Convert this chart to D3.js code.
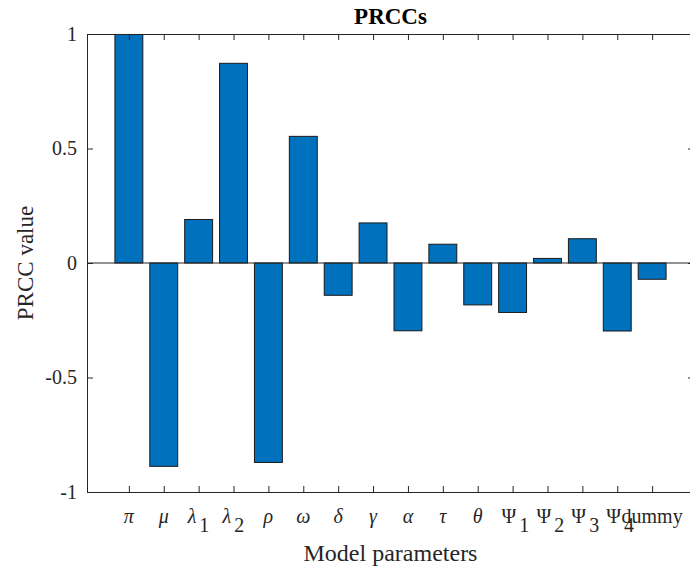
<!DOCTYPE html>
<html><head><meta charset="utf-8">
<script src="https://cdn.jsdelivr.net/npm/d3@7"></script>
<style>body{margin:0;background:#fff}svg{display:block}</style>
</head><body>
<svg id="c" width="690" height="569"></svg>
<script>
const paramSymbols = ["π","μ","λ","λ","ρ","ω","δ","γ","α","τ","θ","Ψ","Ψ","Ψ","Ψ","dummy"];
const paramSubs    = ["","","1","2","","","","","","","","1","2","3","4",""];
const paramItalic  = [true,true,true,true,true,true,true,true,true,true,true,false,false,false,false,false];
const prccValues   = [0.998,-0.888,0.19,0.872,-0.871,0.553,-0.141,0.175,-0.296,0.082,-0.183,-0.216,0.02,0.106,-0.297,-0.071];
const yTicks = [-1,-0.5,0,0.5,1];
const yTickLabels = ["-1","-0.5","0","0.5","1"];

const svg = d3.select("#c");
const L = 87, R = 694, T = 34, B = 492;
const x = d3.scaleLinear().domain([1-1.2, prccValues.length+1.2]).range([L, R]);
const y = d3.scaleLinear().domain([-1, 1]).range([B, T]);
const font = "'Liberation Serif','Times New Roman',Times,serif";
const axisCol = "#262626";
const idx = d3.range(1, prccValues.length+1);

// bars
svg.append("g").selectAll("rect").data(prccValues).join("rect")
  .attr("x", (d,i)=>x(i+1-0.4))
  .attr("width", (d,i)=>x(i+1+0.4)-x(i+1-0.4))
  .attr("y", d=>y(Math.max(0,d)))
  .attr("height", d=>Math.abs(y(d)-y(0)))
  .attr("fill", "#0072BD").attr("stroke", "#1a1a1a").attr("stroke-width", 1);

// baseline
svg.append("line").attr("x1", L).attr("x2", R).attr("y1", y(0)).attr("y2", y(0))
  .attr("stroke", "#262626").attr("stroke-width", 1);

// axes
const gB = svg.append("g").attr("transform", `translate(0,${B})`)
  .call(d3.axisBottom(x).tickValues(idx).tickSize(-6).tickFormat(""));
const gT = svg.append("g").attr("transform", `translate(0,${T})`)
  .call(d3.axisTop(x).tickValues(idx).tickSize(-6).tickFormat(""));
const gL = svg.append("g").attr("transform", `translate(${L},0)`)
  .call(d3.axisLeft(y).tickValues(yTicks).tickSize(-6).tickPadding(10).tickFormat((d,i)=>yTickLabels[i]));
const gR = svg.append("g").attr("transform", `translate(${R},0)`)
  .call(d3.axisRight(y).tickValues(yTicks).tickSize(-6).tickFormat(""));
[gB,gT,gL,gR].forEach(g=>{
  g.selectAll("path").attr("stroke", axisCol).attr("stroke-width", 1);
  g.selectAll("line").attr("stroke", axisCol).attr("stroke-width", 1);
});
gL.selectAll("text").attr("font-family", font).attr("font-size", 20).attr("fill", axisCol);

// x tick labels
const xl = svg.append("g").attr("font-family", font).attr("font-size", 20).attr("fill", axisCol);
paramSymbols.forEach((s,i)=>{
  const t = xl.append("text").attr("x", x(i+1)).attr("y", 523).attr("text-anchor", "middle");
  const sub = paramSubs[i];
  t.append("tspan").text(s).attr("font-style", paramItalic[i] ? "italic" : "normal");
  if (sub) {
    t.attr("text-anchor", "start").attr("x", x(i+1) - 11);
    t.append("tspan").text(sub).attr("dx", 3).attr("dy", 9);
  }
});

// axis labels
svg.append("text").attr("x", x(8.5)).attr("y", 561).attr("text-anchor", "middle")
  .attr("font-family", font).attr("font-size", 24).attr("fill", axisCol).text("Model parameters");
svg.append("text").attr("transform", `translate(33,${y(0)}) rotate(-90)`).attr("text-anchor", "middle")
  .attr("font-family", font).attr("font-size", 23).attr("fill", axisCol).text("PRCC value");
svg.append("text").attr("x", x(8.5)).attr("y", 24).attr("text-anchor", "middle")
  .attr("font-family", font).attr("font-size", 23).attr("font-weight", "bold").attr("fill", "#000").text("PRCCs");
</script>
</body></html>
